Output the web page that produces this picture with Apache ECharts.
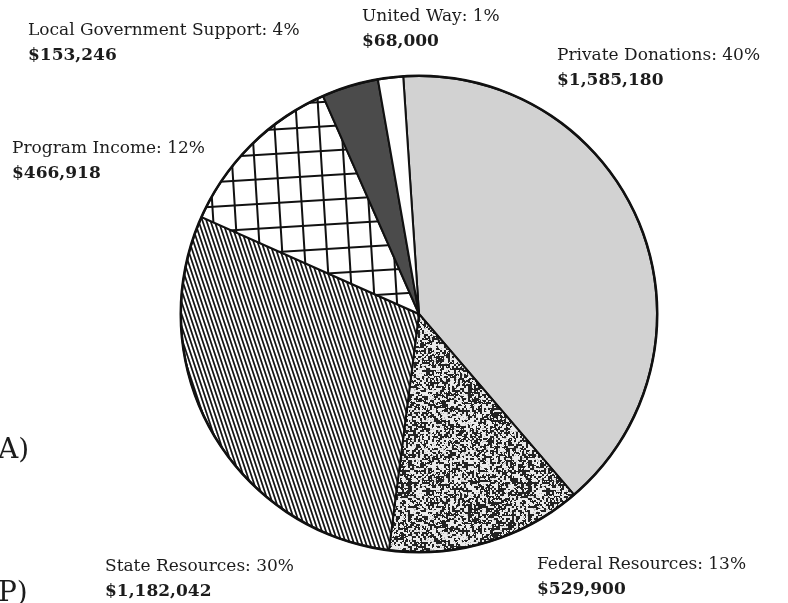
<!DOCTYPE html>
<html><head><meta charset="utf-8">
<script src="https://cdn.jsdelivr.net/npm/echarts@6/dist/echarts.min.js"></script>
<style>html,body{margin:0;padding:0;background:#fff}#chart{width:788px;height:603px}</style>
</head><body><div id="chart"></div>
<script>
// ---- data ----
const categories = ['Private Donations', 'Federal Resources', 'State Resources', 'Program Income', 'Local Government Support', 'United Way'];
const amounts = [1585180, 529900, 1182042, 466918, 153246, 68000];
const percentLabels = [40, 13, 30, 12, 4, 1];
const sideLabels = ['(A)', '(P)'];

// ---- styles ----
const FONT = 'DejaVu Serif';
const labelPos = [[557, 43], [537, 552], [105, 554], [12, 136], [28, 18], [362, 4]];

function makeCanvas(w, h) { const c = document.createElement('canvas'); c.width = w; c.height = h; return c; }
function hash(x, y) {
  let h = (x * 374761393 + y * 668265263) | 0;
  h = Math.imul(h ^ (h >>> 13), 1274126177);
  h = h ^ (h >>> 16);
  return (h >>> 0) / 4294967296;
}
function speckle() {
  const s = 120, c = makeCanvas(s, s), ctx = c.getContext('2d');
  const img = ctx.createImageData(s, s);
  for (let y = 0; y < s; y++) for (let x = 0; x < s; x++) {
    const a = hash(Math.floor(x / 2), Math.floor(y / 2));
    const b = hash(x + 1000, y + 7);
    let v = a < 0.55 ? 35 : 235;
    if (b < 0.12) v = 255 - v * 0.3;
    const i = (y * s + x) * 4;
    img.data[i] = img.data[i + 1] = img.data[i + 2] = v; img.data[i + 3] = 255;
  }
  ctx.putImageData(img, 0, 0);
  return c;
}
function stripes() {
  const w = 4, h = 12, c = makeCanvas(w, h), ctx = c.getContext('2d');
  const img = ctx.createImageData(w, h);
  for (let y = 0; y < h; y++) for (let x = 0; x < w; x++) {
    let cov = 0;
    for (let sy = 0; sy < 4; sy++) for (let sx = 0; sx < 4; sx++) {
      const px = x + (sx + 0.5) / 4, py = y + (sy + 0.5) / 4;
      let d = (px - py / 3) % 4; if (d < 0) d += 4;
      if (d < 1.8) cov++;
    }
    const v = 255 - Math.round(cov / 16 * 235);
    const i = (y * w + x) * 4;
    img.data[i] = img.data[i + 1] = img.data[i + 2] = v; img.data[i + 3] = 255;
  }
  ctx.putImageData(img, 0, 0);
  return c;
}
function grid() {
  const c = makeCanvas(788, 603), ctx = c.getContext('2d');
  ctx.fillStyle = '#fff'; ctx.fillRect(0, 0, 788, 603);
  ctx.save();
  ctx.translate(418, 313); ctx.rotate(-3.5 * Math.PI / 180);
  ctx.strokeStyle = '#111'; ctx.lineWidth = 2;
  for (let k = -40; k <= 40; k++) {
    const x = k * 22.3 + 2, y = k * 24.5 + 4;
    ctx.beginPath(); ctx.moveTo(x, -700); ctx.lineTo(x, 700); ctx.stroke();
    ctx.beginPath(); ctx.moveTo(-900, y); ctx.lineTo(900, y); ctx.stroke();
  }
  ctx.restore();
  return c;
}
const fills = [
  '#d2d2d2',
  { image: speckle(), repeat: 'repeat' },
  { image: stripes(), repeat: 'repeat' },
  { image: grid(), repeat: 'no-repeat' },
  '#4b4b4b',
  '#ffffff'
];

const chart = echarts.init(document.getElementById('chart'), null, { renderer: 'canvas' });
chart.setOption({
  animation: false,
  backgroundColor: '#fff',
  series: [{
    type: 'pie',
    center: [419, 314],
    radius: 238,
    startAngle: 93.8,
    clockwise: true,
    avoidLabelOverlap: false,
    emphasis: { disabled: true },
    itemStyle: { borderColor: '#111', borderWidth: 2 },
    labelLine: { show: false },
    label: {
      show: true,
      position: 'outside',
      formatter: p => '{n|' + p.name + ': ' + percentLabels[p.dataIndex] + '%}\n{v|$' + p.value.toLocaleString('en-US') + '}',
      rich: {
        n: { fontFamily: FONT, fontSize: 17, lineHeight: 25, color: '#1c1c1c' },
        v: { fontFamily: FONT, fontSize: 17, lineHeight: 25, color: '#1c1c1c', fontWeight: 'bold' }
      }
    },
    labelLayout: p => ({ x: labelPos[p.dataIndex][0], y: labelPos[p.dataIndex][1], align: 'left', verticalAlign: 'top' }),
    data: categories.map((c, i) => ({ name: c, value: amounts[i], itemStyle: { color: fills[i] } }))
  }, {
    type: 'pie',
    center: [419, 314],
    radius: [237, 239.5],
    silent: true,
    label: { show: false },
    itemStyle: { color: '#111', borderWidth: 0 },
    data: [{ value: 1, name: '' }]
  }],
  graphic: [
    { type: 'text', left: -13, top: 437, silent: true, style: { text: sideLabels[0], font: '28px "' + FONT + '"', fill: '#1c1c1c' } },
    { type: 'text', left: -13, top: 580, silent: true, style: { text: sideLabels[1], font: '28px "' + FONT + '"', fill: '#1c1c1c' } }
  ]
});
</script>
</body></html>
